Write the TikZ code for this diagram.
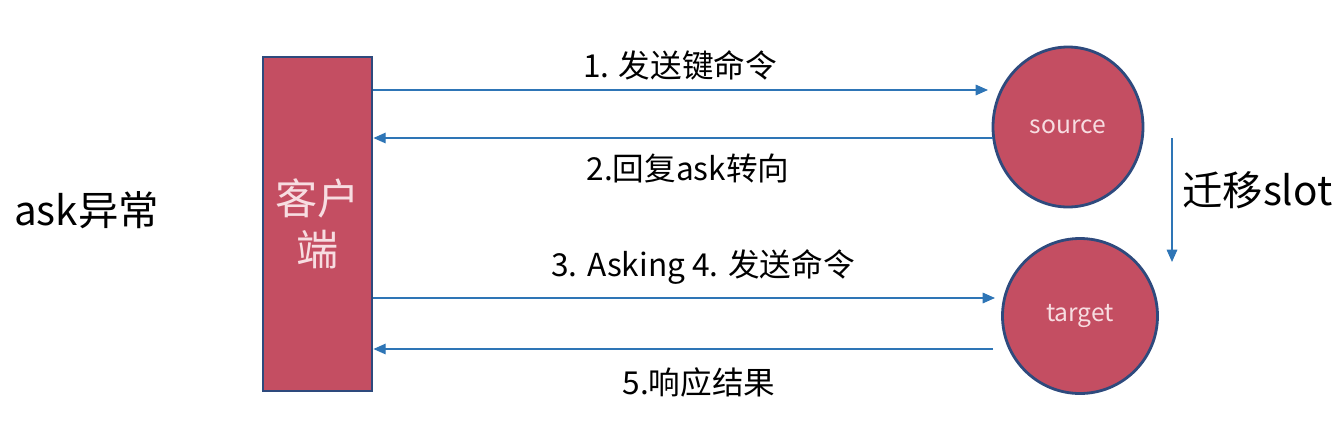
\documentclass[tikz,border=0pt]{standalone}
\usepackage{fontspec}
\setmainfont{Noto Sans CJK SC}
\usetikzlibrary{arrows.meta,positioning,shapes.geometric}
\definecolor{boxred}{HTML}{C44E62}
\definecolor{boxline}{HTML}{2E4A7D}
\definecolor{flowblue}{HTML}{2E75B6}
\definecolor{boxtext}{HTML}{F7DDE1}

\begin{document}
\begin{tikzpicture}[
  x=0.02cm, y=-0.02cm,
  client/.style={draw=boxline, line width=1.6pt, fill=boxred,
                 minimum width=109*0.02cm, minimum height=334*0.02cm,
                 inner sep=0pt, text=boxtext, align=center,
                 font=\fontsize{24}{29}\selectfont},
  server/.style={ellipse, draw=boxline, line width=1.6pt, fill=boxred,
                 inner sep=0pt, text=boxtext, font=\fontsize{14}{16}\selectfont},
  flow/.style={draw=flowblue, line width=0.8pt,
               -{Triangle[length=7pt, width=6pt]}},
  msg/.style={font=\fontsize{18}{22}\selectfont},
]
\useasboundingbox (0,0) rectangle (1343,430);

% Client and servers
\node[client] (client) at (317.5,224) {客户\\端};
\node[server, minimum width=150*0.02cm, minimum height=160*0.02cm] (src) at (1068,127) {source};
\node[server, minimum width=155*0.02cm, minimum height=155*0.02cm] (tgt) at (1080,316) {target};

% Title
\node[font=\fontsize{23}{28}\selectfont, anchor=west] (title) at (8,210) {ask异常};

% Arrow ends
\coordinate (s1) at (988,90);
\coordinate (s2) at (993,138);
\coordinate (s3) at (995,298);
\coordinate (s4) at (993,349);

% Messages
\draw[flow] (client.east |- s1) -- (s1);
\draw[flow] (s2) -- (client.east |- s2);
\draw[flow] (client.east |- s3) -- (s3);
\draw[flow] (s4) -- (client.east |- s4);

\node[msg] (m1) at (680,65) {1. 发送键命令};
\node[msg] (m2) at (688,168) {2.回复ask转向};
\node[msg] (m3) at (703,267) {3. Asking 4. 发送命令};
\node[msg] (m4) at (699,382) {5.响应结果};

% Migration
\coordinate (mtop) at (1172,138);
\coordinate (mbot) at (1172,262);
\draw[flow] (mtop) -- (mbot);
\node[font=\fontsize{23}{28}\selectfont, anchor=west] (mig) at (1176,190) {迁移slot};

\end{tikzpicture}
\end{document}
